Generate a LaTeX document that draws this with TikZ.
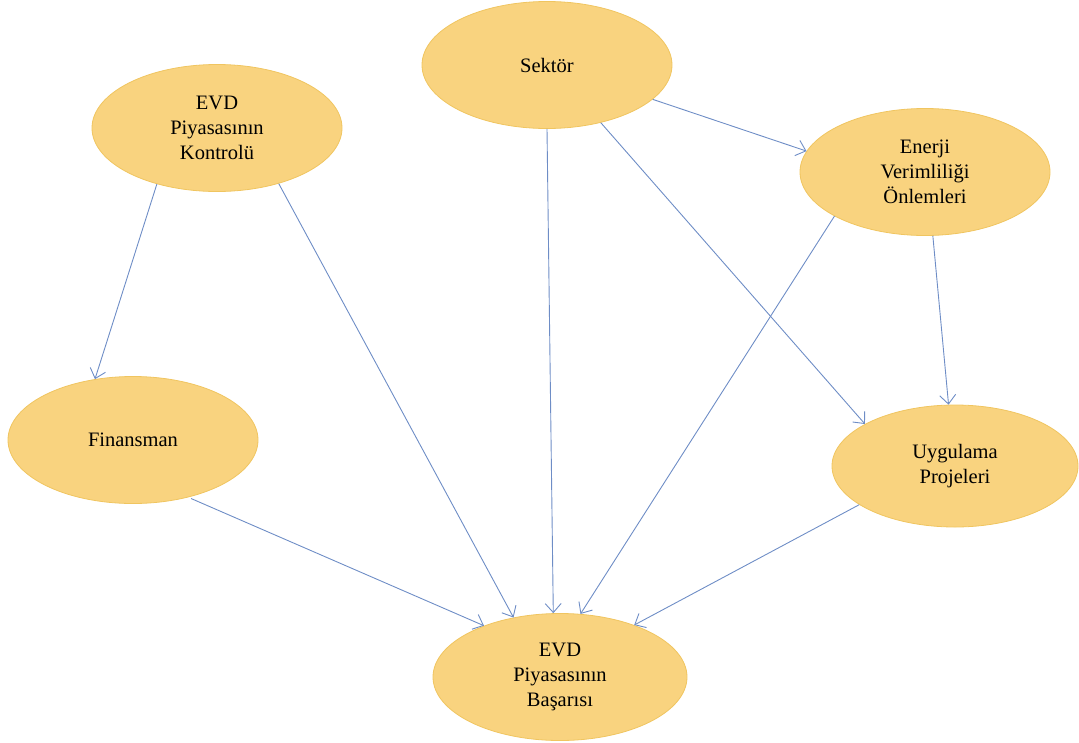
\documentclass[tikz,border=0pt]{standalone}
\usepackage{fontspec}
\setmainfont{Liberation Serif}
\usetikzlibrary{shapes.geometric,arrows.meta}
\definecolor{ellfill}{HTML}{F9D37F}
\definecolor{elldraw}{HTML}{F0C560}
\definecolor{arr}{HTML}{6E8DC6}
\begin{document}
\begin{tikzpicture}[x=1pt,y=-1pt,
  bubble/.style={ellipse, fill=ellfill, draw=elldraw, line width=0.8pt,
    minimum width=250pt, minimum height=127pt, inner sep=0pt, align=center,
    font=\fontsize{20.5}{25}\selectfont, text=black},
  link/.style={draw=arr, line width=0.9pt,
    -{Straight Barb[length=9pt,width=16pt,line width=0.9pt]}}]
\useasboundingbox (0,0) rectangle (1079,742);
\node[bubble] (k) at (217,128) {EVD\\Piyasasının\\Kontrolü};
\node[bubble] (s) at (547,65) {Sektör};
\node[bubble] (e) at (925,172) {Enerji\\Verimliliği\\Önlemleri};
\node[bubble] (f) at (133,440) {Finansman};
\node[bubble, minimum width=246pt, minimum height=122pt] (u) at (955,466) {Uygulama\\Projeleri};
\node[bubble, minimum width=254pt] (b) at (560,677) {EVD\\Piyasasının\\Başarısı};
\draw[link] (k.223) -- (f.122);
\draw[link] (k.318) -- (b.128);
\draw[link, shorten <=3pt] (f.314) -- (b.146);
\draw[link] (s.270) -- (b.96);
\draw[link] (s.342) -- (e.170);
\draw[link] (s.313) -- (u.155);
\draw[link] (e.206) -- (b.72);
\draw[link] (e.277) -- (u.96);
\draw[link] (u.202) -- (b.35);
\end{tikzpicture}
\end{document}
